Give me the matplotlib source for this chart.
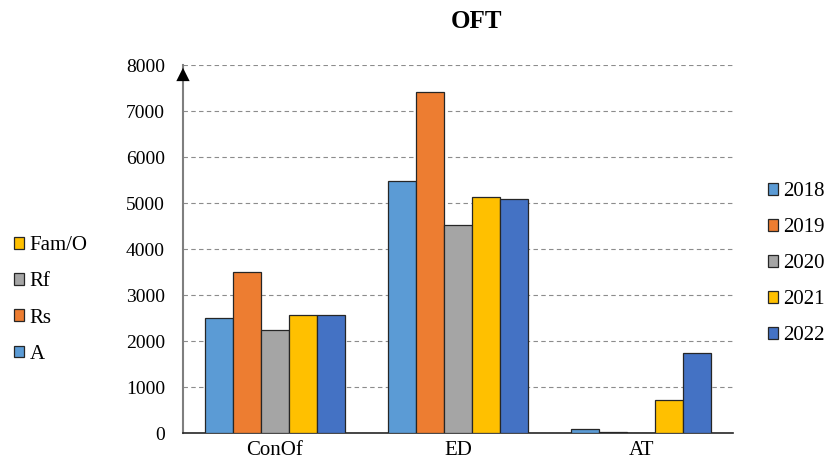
import matplotlib
matplotlib.use('Agg')
import matplotlib.pyplot as plt
from matplotlib.patches import Patch
import numpy as np

plt.rcParams['font.family'] = ['Liberation Serif', 'DejaVu Serif']

categories = ['ConOf', 'ED', 'AT']
years = ['2018', '2019', '2020', '2021', '2022']
values = {
    '2018': [2500, 5480, 80],
    '2019': [3500, 7420, 25],
    '2020': [2250, 4530, 0],
    '2021': [2560, 5120, 710],
    '2022': [2560, 5080, 1730],
}
colors = ['#5B9BD5', '#ED7D31', '#A5A5A5', '#FFC000', '#4472C4']

# second key on the left
side_labels = ['Fam/O', 'Rf', 'Rs', 'A']
side_colors = ['#FFC000', '#A5A5A5', '#ED7D31', '#5B9BD5']

fig = plt.figure(figsize=(8.25, 4.65), dpi=100)
ax = fig.add_axes([0.2218, 0.0688, 0.6667, 0.7914])

x = np.arange(len(categories))
w = 0.153
for i, yr in enumerate(years):
    ax.bar(x + (i - 2) * w, values[yr], width=w, color=colors[i],
           edgecolor='#262626', linewidth=0.9, zorder=3, label=yr)

ax.set_xlim(-0.5, 2.5)
ax.set_ylim(0, 8000)
ax.set_yticks(range(0, 8001, 1000))
ax.set_xticks(x)
ax.set_xticklabels(categories, fontsize=15)
ax.tick_params(axis='y', labelsize=14, length=0, pad=13)
ax.tick_params(axis='x', length=0, pad=6)
ax.yaxis.grid(True, linestyle=(0, (4, 3)), color='#8c8c8c', linewidth=0.8, zorder=0)

for s in ['top', 'right']:
    ax.spines[s].set_visible(False)
ax.spines['left'].set_color('#7f7f7f')
ax.spines['left'].set_linewidth(1.5)
ax.spines['bottom'].set_color('#262626')
ax.spines['bottom'].set_linewidth(1.2)

# arrow head on the value axis
ax.annotate('', xy=(0, 1.0), xytext=(0, 0.95), xycoords='axes fraction',
            arrowprops=dict(arrowstyle='-|>', color='black', lw=0,
                            mutation_scale=24), annotation_clip=False)

fig.text(0.577, 0.953, 'OFT', fontsize=18, fontweight='bold', ha='center', va='center')

handles = [Patch(facecolor=c, edgecolor='#262626', linewidth=0.9) for c in colors]
fig.legend(handles, years, loc='center left', bbox_to_anchor=(0.931, 0.433),
           frameon=False, fontsize=15, handlelength=0.5, handleheight=0.5,
           handletextpad=0.2, labelspacing=0.82, borderpad=0, borderaxespad=0)

side_handles = [Patch(facecolor=c, edgecolor='#262626', linewidth=0.9) for c in side_colors]
fig.legend(side_handles, side_labels, loc='center left', bbox_to_anchor=(0.017, 0.355),
           frameon=False, fontsize=15, handlelength=0.5, handleheight=0.5,
           handletextpad=0.25, labelspacing=0.83, borderpad=0, borderaxespad=0)

fig.savefig('out.png', dpi=100)
